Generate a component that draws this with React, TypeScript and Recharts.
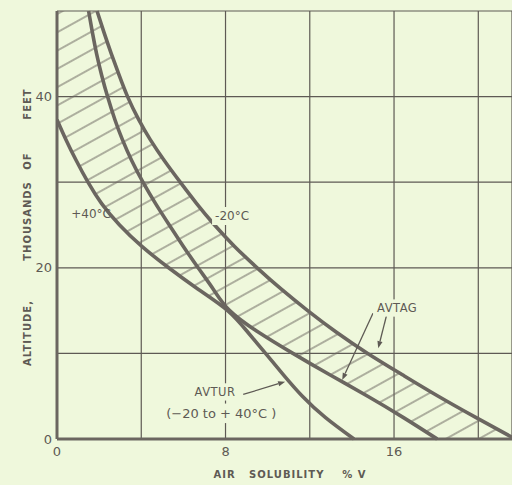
import React from 'react';
import {
  ComposedChart,
  Line,
  Area,
  XAxis,
  YAxis,
  CartesianGrid,
  ReferenceLine,
  ReferenceDot,
} from 'recharts';

// altitude, thousands of feet
const altitude = [0, 2.5, 5, 7.5, 10, 12.5, 15, 17.5, 20, 22.5, 25, 27.5, 30, 32.5, 35, 37.3, 40, 42.5, 45, 47.5, 50];

// air solubility (% by volume) at each altitude
const avturHot = [14.1, 12.75, 11.65, 10.75, 9.9, 9.05, 8.1, 6.7, 5.3, 4.03, 2.97, 2.12, 1.47, 0.92, 0.42, 0, null, null, null, null, null];
const avturCold = [18.05, 16.45, 14.75, 12.95, 11.2, 9.55, 8.2, 7.42, 6.7, 6.0, 5.33, 4.68, 4.08, 3.55, 3.1, 2.75, 2.4, 2.12, 1.88, 1.68, 1.5];
const avtagUpper = [21.75, 19.9, 18.1, 16.4, 14.75, 13.25, 11.9, 10.65, 9.5, 8.43, 7.48, 6.63, 5.85, 5.1, 4.42, 3.88, 3.35, 2.95, 2.58, 2.23, 1.9];

// below this altitude the AVTUR curve no longer depends on temperature
const avturSplit = 15;

const solubilityTicks = [0, 4, 8, 12, 16, 20];
const labelledSolubility = [0, 8, 16];
const altitudeTicks = [0, 10, 20, 30, 40, 50];
const labelledAltitude = [0, 20, 40];

const rows = altitude.map((alt, i) => ({
  alt,
  hot: avturHot[i],
  cold: avturCold[i],
  upper: avtagUpper[i],
  avturBand: alt >= avturSplit ? [Math.max(avturHot[i] ?? 0, 0), avturCold[i]] : null,
  avtagBand: [avturCold[i], avtagUpper[i]],
}));

const paper = '#eff8dc';
const ink = '#5e5a54';
const curveInk = '#6b6660';
const font = '"DejaVu Sans", sans-serif';

const Arrow = (p: any) => {
  const { x1, y1, x2, y2 } = p;
  if ([x1, y1, x2, y2].some((v) => typeof v !== 'number')) return null;
  const a = Math.atan2(y2 - y1, x2 - x1);
  const len = 7;
  const half = 2.6;
  const bx = x2 - len * Math.cos(a);
  const by = y2 - len * Math.sin(a);
  const pts = `${x2},${y2} ${bx + half * Math.sin(a)},${by - half * Math.cos(a)} ${bx - half * Math.sin(a)},${by + half * Math.cos(a)}`;
  return (
    <g>
      <line x1={x1} y1={y1} x2={bx} y2={by} stroke={ink} strokeWidth={1.3} />
      <polygon points={pts} fill={ink} />
    </g>
  );
};

// text, optionally with a paper-coloured box behind it so gridlines break around it
const tag = (text: string, w: number, size: number, extra: any = {}) => (p: any) => {
  const { cx, cy } = p;
  if (typeof cx !== 'number' || typeof cy !== 'number') return null;
  return (
    <g>
      {w > 0 && <rect x={cx - w / 2} y={cy - size * 0.75} width={w} height={size * 1.5} fill={paper} />}
      <text
        x={cx}
        y={cy}
        textAnchor="middle"
        dominantBaseline="central"
        fontFamily={font}
        fontSize={size}
        fill={ink}
        {...extra}
      >
        {text}
      </text>
    </g>
  );
};

const tickStyle = { fontFamily: font, fontSize: 13, fill: ink };
const titleStyle = { fontFamily: font, fontSize: 10, fontWeight: 'bold' as const, fill: ink, letterSpacing: 1 };

export default function App() {
  return (
    <div style={{ position: 'absolute', left: 0, top: 0, width: 512, height: 485, background: paper }}>
      <ComposedChart
        width={512}
        height={485}
        layout="vertical"
        data={rows}
        margin={{ top: 11, right: 0, bottom: 0, left: 0 }}
      >
        <defs>
          <pattern id="hatch" patternUnits="userSpaceOnUse" width="40" height="16" patternTransform="rotate(-29)">
            <line x1="0" y1="8" x2="40" y2="8" stroke={curveInk} strokeWidth={1.2} />
          </pattern>
        </defs>
        <CartesianGrid stroke={ink} strokeWidth={1.2} />
        <Area
          dataKey="avturBand"
          type="natural"
          fill="url(#hatch)"
          fillOpacity={1}
          stroke="none"
          isAnimationActive={false}
        />
        <Area
          dataKey="avtagBand"
          type="natural"
          fill="url(#hatch)"
          fillOpacity={1}
          stroke="none"
          isAnimationActive={false}
        />
        <Line dataKey="hot" type="natural" stroke={curveInk} strokeWidth={3.6} dot={false} isAnimationActive={false} />
        <Line dataKey="cold" type="natural" stroke={curveInk} strokeWidth={3.6} dot={false} isAnimationActive={false} />
        <Line dataKey="upper" type="natural" stroke={curveInk} strokeWidth={3.6} dot={false} isAnimationActive={false} />

        <ReferenceLine segment={[{ x: 15.0, y: 14.7 }, { x: 13.54, y: 6.9 }]} shape={Arrow} />
        <ReferenceLine segment={[{ x: 15.68, y: 14.8 }, { x: 15.25, y: 10.6 }]} shape={Arrow} />
        <ReferenceLine segment={[{ x: 8.84, y: 5.2 }, { x: 10.83, y: 6.7 }]} shape={Arrow} />

        <ReferenceDot x={1.62} y={26.3} r={0} shape={tag('+40°C', 0, 12)} />
        <ReferenceDot x={8.31} y={26.05} r={0} shape={tag('-20°C', 40, 12)} />
        <ReferenceDot x={16.15} y={15.3} r={0} shape={tag('AVTAG', 48, 11.5, { letterSpacing: 0.5 })} />
        <ReferenceDot x={7.5} y={5.5} r={0} shape={tag('AVTUR', 50, 11.5, { letterSpacing: 0.5 })} />
        <ReferenceDot x={7.8} y={3.0} r={0} shape={tag('(−20 to + 40°C )', 118, 13)} />

        <XAxis
          type="number"
          dataKey="x"
          domain={[0, 21.6]}
          allowDataOverflow
          ticks={solubilityTicks}
          interval={0}
          tickFormatter={(v: number) => (labelledSolubility.includes(v) ? String(v) : '')}
          height={46}
          axisLine={{ stroke: curveInk, strokeWidth: 3 }}
          tickLine={false}
          tick={tickStyle}
        />
        <YAxis
          type="number"
          dataKey="alt"
          domain={[0, 50]}
          reversed
          ticks={altitudeTicks}
          interval={0}
          tickFormatter={(v: number) => (labelledAltitude.includes(v) ? String(v) : '')}
          width={57}
          axisLine={{ stroke: curveInk, strokeWidth: 3 }}
          tickLine={false}
          tickSize={4}
          tickMargin={1}
          tick={tickStyle}
        />

        <g>
          <text x={290} y={474} textAnchor="middle" dominantBaseline="central" style={{ whiteSpace: 'pre' }} {...titleStyle}>
            {'AIR   SOLUBILITY    % V'}
          </text>
          <text transform="translate(27,333) rotate(-90)" textAnchor="middle" dominantBaseline="central" {...titleStyle}>
            ALTITUDE,
          </text>
          <text transform="translate(27,221) rotate(-90)" textAnchor="middle" dominantBaseline="central" {...titleStyle}>
            THOUSANDS
          </text>
          <text transform="translate(27,161) rotate(-90)" textAnchor="middle" dominantBaseline="central" {...titleStyle}>
            OF
          </text>
          <text transform="translate(27,104) rotate(-90)" textAnchor="middle" dominantBaseline="central" {...titleStyle}>
            FEET
          </text>
        </g>
      </ComposedChart>
    </div>
  );
}
